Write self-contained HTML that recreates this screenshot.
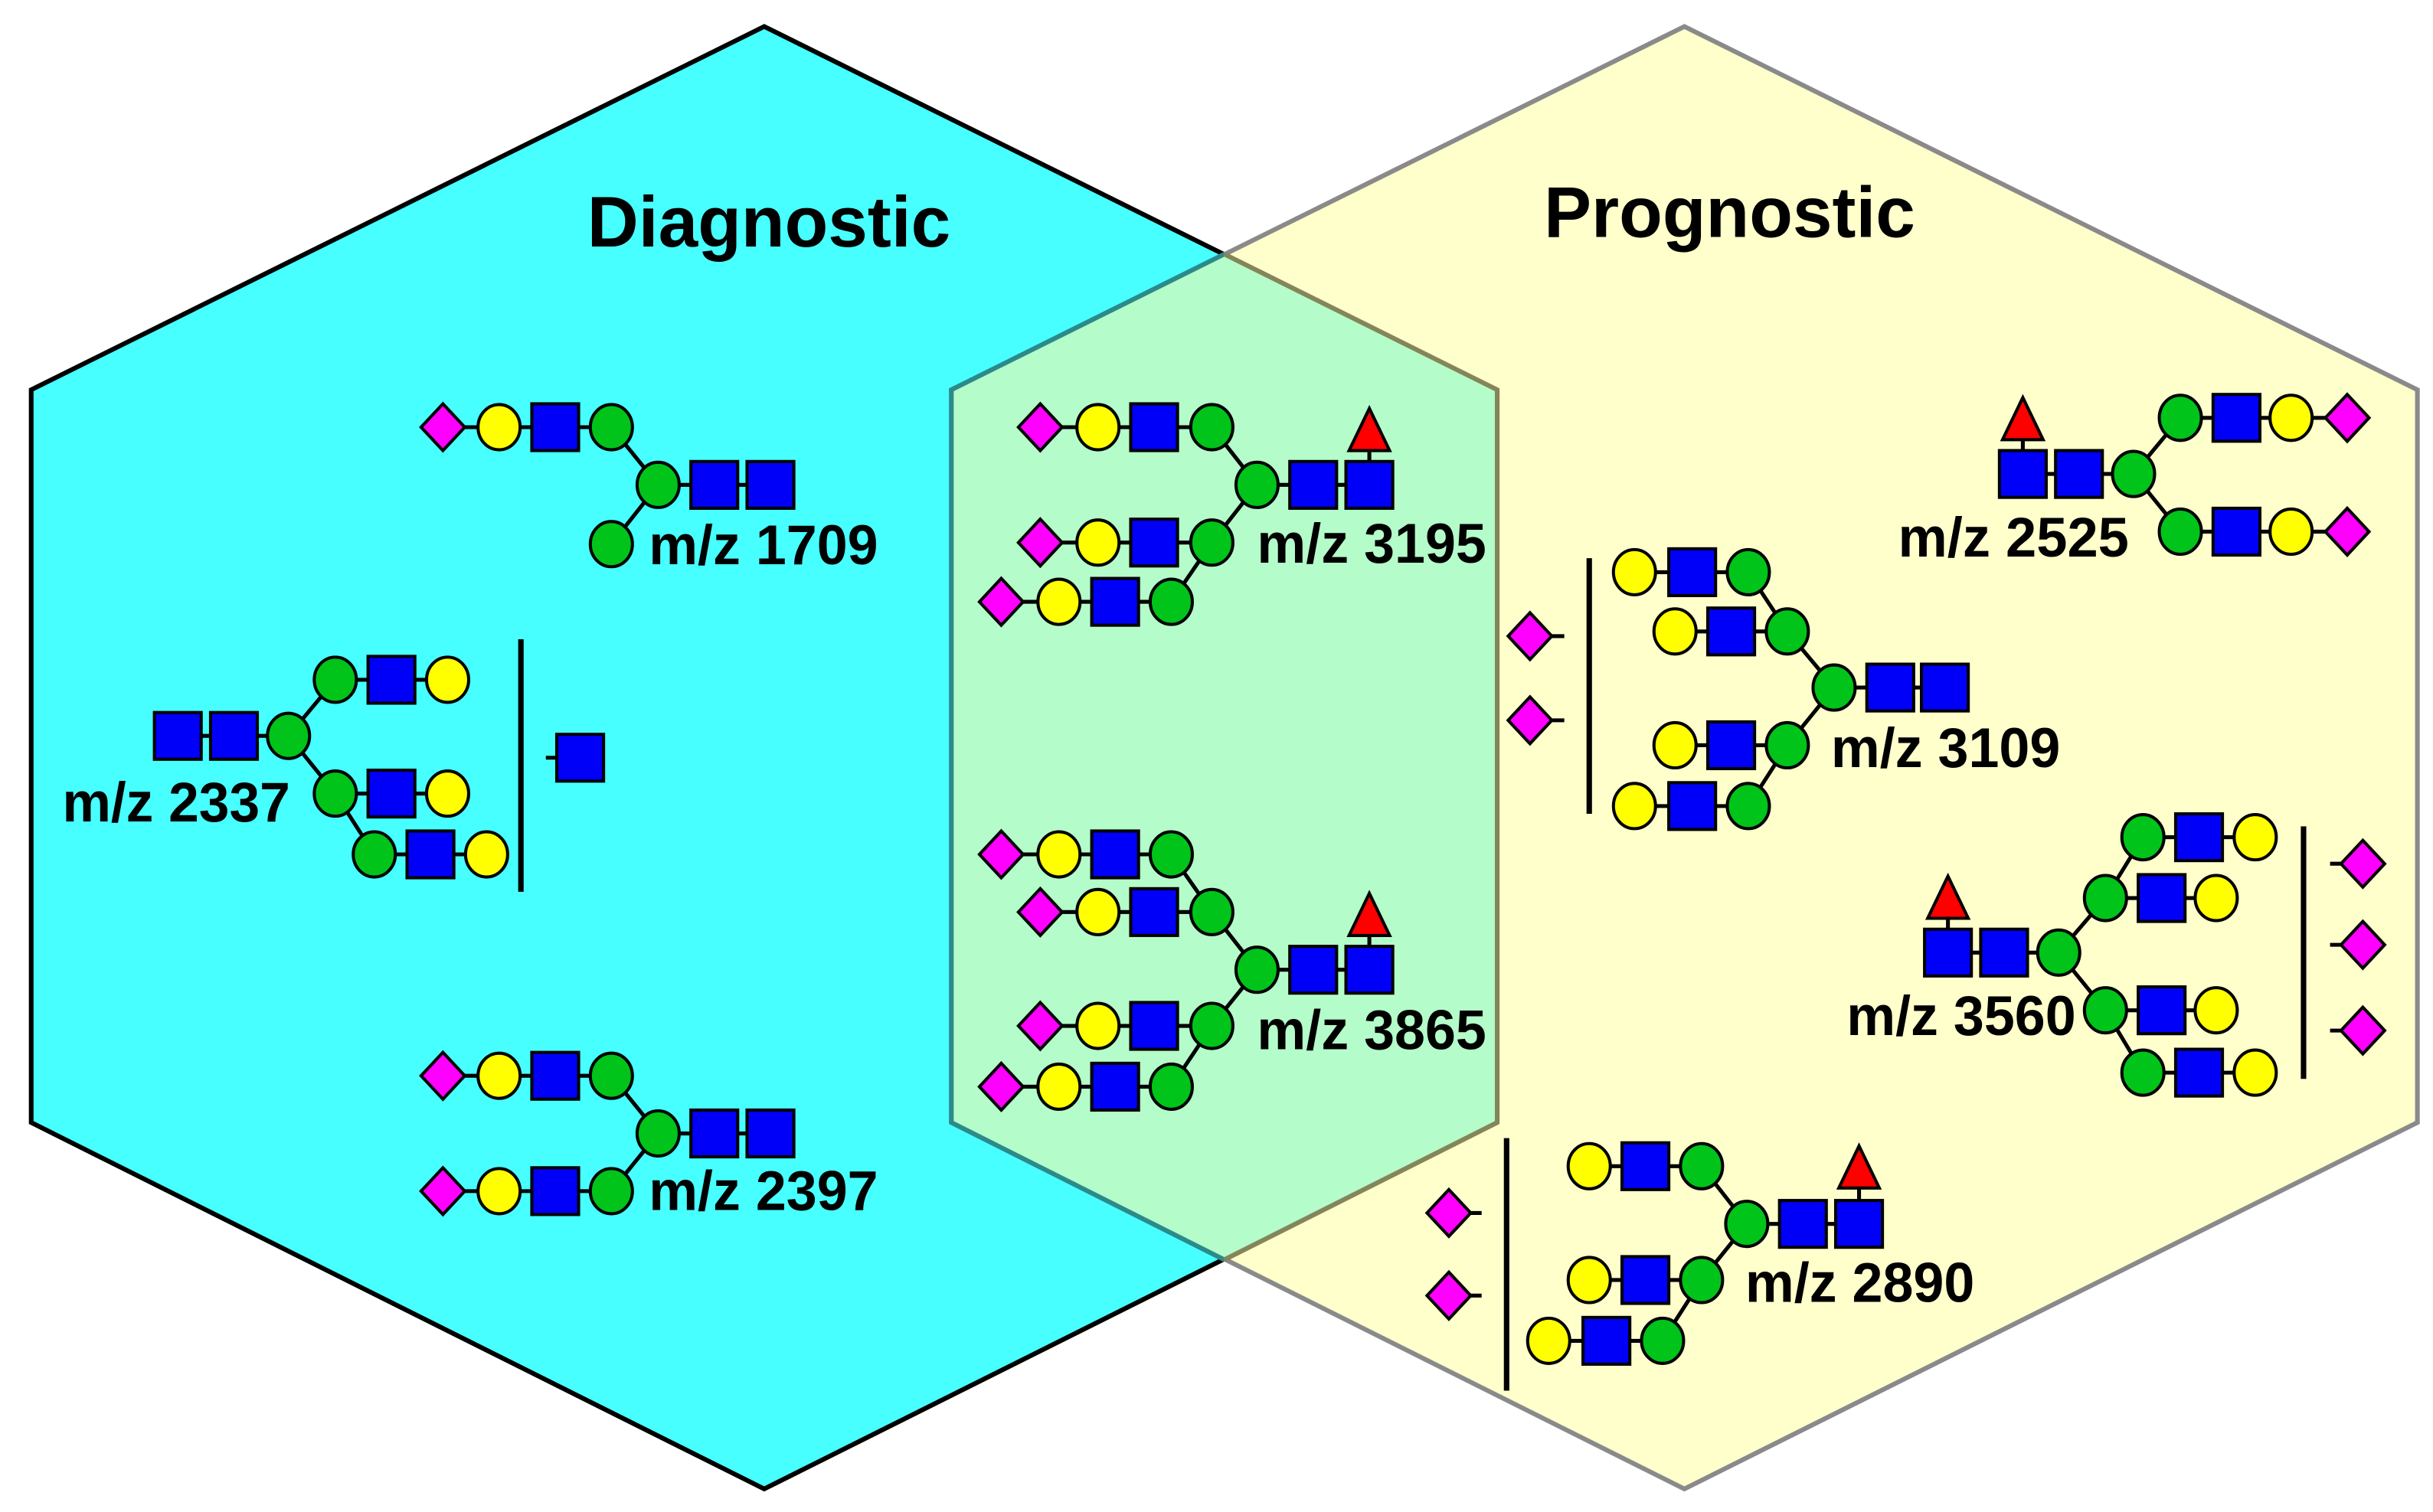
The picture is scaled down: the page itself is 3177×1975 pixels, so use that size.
<!DOCTYPE html>
<html><head><meta charset="utf-8"><style>
html,body{margin:0;padding:0;background:#fff;}
svg{display:block;}
text{font-family:"Liberation Sans",sans-serif;font-weight:bold;fill:#000;}
</style></head><body>
<svg width="3177" height="1975" viewBox="0 0 1560 969.8" preserveAspectRatio="none" xmlns="http://www.w3.org/2000/svg">
<defs>
<ellipse id="G" rx="13.5" ry="14.5" fill="#00c41a" stroke="#000" stroke-width="2"/>
<ellipse id="Y" rx="13.5" ry="14.5" fill="#ffff00" stroke="#000" stroke-width="2"/>
<rect id="S" x="-15" y="-15" width="30" height="30" fill="#0000f8" stroke="#000" stroke-width="2"/>
<polygon id="D" points="0,-15 14,0 0,15 -14,0" fill="#ff00ff" stroke="#000" stroke-width="2"/>
<polygon id="T" points="0,-15 13,12 -13,12" fill="#ff0000" stroke="#000" stroke-width="2"/>
</defs>
<rect width="1560" height="970" fill="#fff"/>
<polygon points="490,17 960,250 960,720 490,955 20,720 20,250" fill="#48ffff" stroke="#000" stroke-width="3"/>
<polygon points="1080,17 1550,250 1550,720 1080,955 610,720 610,250" fill="#ffffcc" stroke="#8a8a8a" stroke-width="3"/>
<polygon points="610,250 785,163 960,250 960,720 785,808 610,720" fill="#b4fcc9"/>
<polyline points="785,808 610,720 610,250 785,163" fill="none" stroke="#2b8a8a" stroke-width="3"/>
<polyline points="785,163 960,250 960,720 785,808" fill="none" stroke="#85855a" stroke-width="3"/>

<text x="493" y="158" font-size="46" text-anchor="middle" textLength="233" lengthAdjust="spacingAndGlyphs">Diagnostic</text>
<text x="1109" y="152" font-size="46" text-anchor="middle" textLength="238" lengthAdjust="spacingAndGlyphs">Prognostic</text>

<g stroke="#000" stroke-width="2.5" fill="none">
<line x1="284" y1="274" x2="392" y2="274"/><line x1="392" y1="274" x2="422" y2="311"/><line x1="422" y1="311" x2="494" y2="311"/><line x1="422" y1="311" x2="392" y2="349"/>
<line x1="114" y1="472" x2="185" y2="472"/><line x1="185" y1="472" x2="215" y2="436"/><line x1="215" y1="436" x2="287" y2="436"/><line x1="185" y1="472" x2="215" y2="509"/><line x1="215" y1="509" x2="287" y2="509"/><line x1="215" y1="509" x2="240" y2="548"/><line x1="240" y1="548" x2="312" y2="548"/>
<line x1="350" y1="486" x2="372" y2="486"/>
<line x1="284" y1="690" x2="392" y2="690"/><line x1="392" y1="690" x2="422" y2="727"/><line x1="422" y1="727" x2="494" y2="727"/><line x1="422" y1="727" x2="392" y2="764"/><line x1="284" y1="764" x2="392" y2="764"/>
<line x1="667" y1="274" x2="777" y2="274"/><line x1="777" y1="274" x2="806" y2="311"/><line x1="806" y1="311" x2="878" y2="311"/><line x1="878" y1="290" x2="878" y2="311"/><line x1="806" y1="311" x2="777" y2="348"/><line x1="667" y1="348" x2="777" y2="348"/><line x1="777" y1="348" x2="751" y2="386"/><line x1="642" y1="386" x2="751" y2="386"/>
<line x1="642" y1="548" x2="751" y2="548"/><line x1="751" y1="548" x2="777" y2="585"/><line x1="667" y1="585" x2="777" y2="585"/><line x1="777" y1="585" x2="806" y2="622"/><line x1="806" y1="622" x2="878" y2="622"/><line x1="878" y1="600" x2="878" y2="622"/><line x1="806" y1="622" x2="777" y2="658"/><line x1="667" y1="658" x2="777" y2="658"/><line x1="777" y1="658" x2="751" y2="697"/><line x1="642" y1="697" x2="751" y2="697"/>
<line x1="1297" y1="280" x2="1297" y2="304"/><line x1="1297" y1="304" x2="1368" y2="304"/><line x1="1368" y1="304" x2="1398" y2="268"/><line x1="1398" y1="268" x2="1505" y2="268"/><line x1="1368" y1="304" x2="1398" y2="341"/><line x1="1398" y1="341" x2="1505" y2="341"/>
<line x1="981" y1="408" x2="1003" y2="408"/><line x1="981" y1="462" x2="1003" y2="462"/>
<line x1="1048" y1="367" x2="1121" y2="367"/><line x1="1121" y1="367" x2="1146" y2="405"/><line x1="1074" y1="405" x2="1146" y2="405"/><line x1="1146" y1="405" x2="1176" y2="441"/><line x1="1176" y1="441" x2="1247" y2="441"/><line x1="1176" y1="441" x2="1146" y2="478"/><line x1="1074" y1="478" x2="1146" y2="478"/><line x1="1146" y1="478" x2="1121" y2="517"/><line x1="1048" y1="517" x2="1121" y2="517"/>
<line x1="1249" y1="588" x2="1249" y2="611"/><line x1="1249" y1="611" x2="1320" y2="611"/><line x1="1320" y1="611" x2="1350" y2="576"/><line x1="1350" y1="576" x2="1374" y2="537"/><line x1="1374" y1="537" x2="1446" y2="537"/><line x1="1350" y1="576" x2="1421" y2="576"/><line x1="1320" y1="611" x2="1350" y2="648"/><line x1="1350" y1="648" x2="1421" y2="648"/><line x1="1350" y1="648" x2="1374" y2="688"/><line x1="1374" y1="688" x2="1446" y2="688"/>
<line x1="1494" y1="554" x2="1515" y2="554"/><line x1="1494" y1="606" x2="1515" y2="606"/><line x1="1494" y1="661" x2="1515" y2="661"/>
<line x1="929" y1="778" x2="950" y2="778"/><line x1="929" y1="831" x2="950" y2="831"/>
<line x1="1019" y1="748" x2="1091" y2="748"/><line x1="1091" y1="748" x2="1120" y2="785"/><line x1="1120" y1="785" x2="1192" y2="785"/><line x1="1192" y1="762" x2="1192" y2="785"/><line x1="1120" y1="785" x2="1091" y2="821"/><line x1="1019" y1="821" x2="1091" y2="821"/><line x1="1091" y1="821" x2="1066" y2="860"/><line x1="993" y1="860" x2="1066" y2="860"/>
</g>
<g stroke="#000" stroke-width="3.5">
<line x1="334" y1="410" x2="334" y2="572"/>
<line x1="1019" y1="358" x2="1019" y2="522"/>
<line x1="1477" y1="530" x2="1477" y2="692"/>
<line x1="966" y1="730" x2="966" y2="892"/>
</g>

<use href="#D" x="284" y="274"/><use href="#Y" x="320" y="274"/><use href="#S" x="356" y="274"/><use href="#G" x="392" y="274"/>
<use href="#G" x="422" y="311"/><use href="#S" x="458" y="311"/><use href="#S" x="494" y="311"/><use href="#G" x="392" y="349"/>
<text x="416" y="362" font-size="36" textLength="147" lengthAdjust="spacingAndGlyphs">m/z 1709</text>
<use href="#S" x="114" y="472"/><use href="#S" x="150" y="472"/><use href="#G" x="185" y="472"/>
<use href="#G" x="215" y="436"/><use href="#S" x="251" y="436"/><use href="#Y" x="287" y="436"/>
<use href="#G" x="215" y="509"/><use href="#S" x="251" y="509"/><use href="#Y" x="287" y="509"/>
<use href="#G" x="240" y="548"/><use href="#S" x="276" y="548"/><use href="#Y" x="312" y="548"/>
<use href="#S" x="372" y="486"/>
<text x="40" y="527" font-size="36" textLength="146" lengthAdjust="spacingAndGlyphs">m/z 2337</text>
<use href="#D" x="284" y="690"/><use href="#Y" x="320" y="690"/><use href="#S" x="356" y="690"/><use href="#G" x="392" y="690"/>
<use href="#G" x="422" y="727"/><use href="#S" x="458" y="727"/><use href="#S" x="494" y="727"/>
<use href="#D" x="284" y="764"/><use href="#Y" x="320" y="764"/><use href="#S" x="356" y="764"/><use href="#G" x="392" y="764"/>
<text x="416" y="776" font-size="36" textLength="147" lengthAdjust="spacingAndGlyphs">m/z 2397</text>
<use href="#D" x="667" y="274"/><use href="#Y" x="704" y="274"/><use href="#S" x="740" y="274"/><use href="#G" x="777" y="274"/>
<use href="#G" x="806" y="311"/><use href="#S" x="842" y="311"/><use href="#S" x="878" y="311"/><use href="#T" x="878" y="277"/>
<use href="#D" x="667" y="348"/><use href="#Y" x="704" y="348"/><use href="#S" x="740" y="348"/><use href="#G" x="777" y="348"/>
<use href="#D" x="642" y="386"/><use href="#Y" x="679" y="386"/><use href="#S" x="715" y="386"/><use href="#G" x="751" y="386"/>
<text x="806" y="361" font-size="36" textLength="147" lengthAdjust="spacingAndGlyphs">m/z 3195</text>
<use href="#D" x="642" y="548"/><use href="#Y" x="679" y="548"/><use href="#S" x="715" y="548"/><use href="#G" x="751" y="548"/>
<use href="#D" x="667" y="585"/><use href="#Y" x="704" y="585"/><use href="#S" x="740" y="585"/><use href="#G" x="777" y="585"/>
<use href="#G" x="806" y="622"/><use href="#S" x="842" y="622"/><use href="#S" x="878" y="622"/><use href="#T" x="878" y="588"/>
<use href="#D" x="667" y="658"/><use href="#Y" x="704" y="658"/><use href="#S" x="740" y="658"/><use href="#G" x="777" y="658"/>
<use href="#D" x="642" y="697"/><use href="#Y" x="679" y="697"/><use href="#S" x="715" y="697"/><use href="#G" x="751" y="697"/>
<text x="806" y="673" font-size="36" textLength="147" lengthAdjust="spacingAndGlyphs">m/z 3865</text>
<use href="#T" x="1297" y="270"/><use href="#S" x="1297" y="304"/><use href="#S" x="1333" y="304"/><use href="#G" x="1368" y="304"/>
<use href="#G" x="1398" y="268"/><use href="#S" x="1434" y="268"/><use href="#Y" x="1469" y="268"/><use href="#D" x="1505" y="268"/>
<use href="#G" x="1398" y="341"/><use href="#S" x="1434" y="341"/><use href="#Y" x="1469" y="341"/><use href="#D" x="1505" y="341"/>
<text x="1217" y="357" font-size="36" textLength="148" lengthAdjust="spacingAndGlyphs">m/z 2525</text>
<use href="#D" x="981" y="408"/><use href="#D" x="981" y="462"/>
<use href="#Y" x="1048" y="367"/><use href="#S" x="1085" y="367"/><use href="#G" x="1121" y="367"/>
<use href="#Y" x="1074" y="405"/><use href="#S" x="1110" y="405"/><use href="#G" x="1146" y="405"/>
<use href="#G" x="1176" y="441"/><use href="#S" x="1212" y="441"/><use href="#S" x="1247" y="441"/>
<use href="#Y" x="1074" y="478"/><use href="#S" x="1110" y="478"/><use href="#G" x="1146" y="478"/>
<use href="#Y" x="1048" y="517"/><use href="#S" x="1085" y="517"/><use href="#G" x="1121" y="517"/>
<text x="1174" y="492" font-size="36" textLength="147" lengthAdjust="spacingAndGlyphs">m/z 3109</text>
<use href="#T" x="1249" y="577"/><use href="#S" x="1249" y="611"/><use href="#S" x="1285" y="611"/><use href="#G" x="1320" y="611"/>
<use href="#G" x="1374" y="537"/><use href="#S" x="1410" y="537"/><use href="#Y" x="1446" y="537"/>
<use href="#G" x="1350" y="576"/><use href="#S" x="1386" y="576"/><use href="#Y" x="1421" y="576"/>
<use href="#G" x="1350" y="648"/><use href="#S" x="1386" y="648"/><use href="#Y" x="1421" y="648"/>
<use href="#G" x="1374" y="688"/><use href="#S" x="1410" y="688"/><use href="#Y" x="1446" y="688"/>
<use href="#D" x="1515" y="554"/><use href="#D" x="1515" y="606"/><use href="#D" x="1515" y="661"/>
<text x="1184" y="664" font-size="36" textLength="147" lengthAdjust="spacingAndGlyphs">m/z 3560</text>
<use href="#D" x="929" y="778"/><use href="#D" x="929" y="831"/>
<use href="#Y" x="1019" y="748"/><use href="#S" x="1055" y="748"/><use href="#G" x="1091" y="748"/>
<use href="#G" x="1120" y="785"/><use href="#S" x="1156" y="785"/><use href="#S" x="1192" y="785"/><use href="#T" x="1192" y="750"/>
<use href="#Y" x="1019" y="821"/><use href="#S" x="1055" y="821"/><use href="#G" x="1091" y="821"/>
<use href="#Y" x="993" y="860"/><use href="#S" x="1030" y="860"/><use href="#G" x="1066" y="860"/>
<text x="1119" y="835" font-size="36" textLength="147" lengthAdjust="spacingAndGlyphs">m/z 2890</text>
</svg>
</body></html>
